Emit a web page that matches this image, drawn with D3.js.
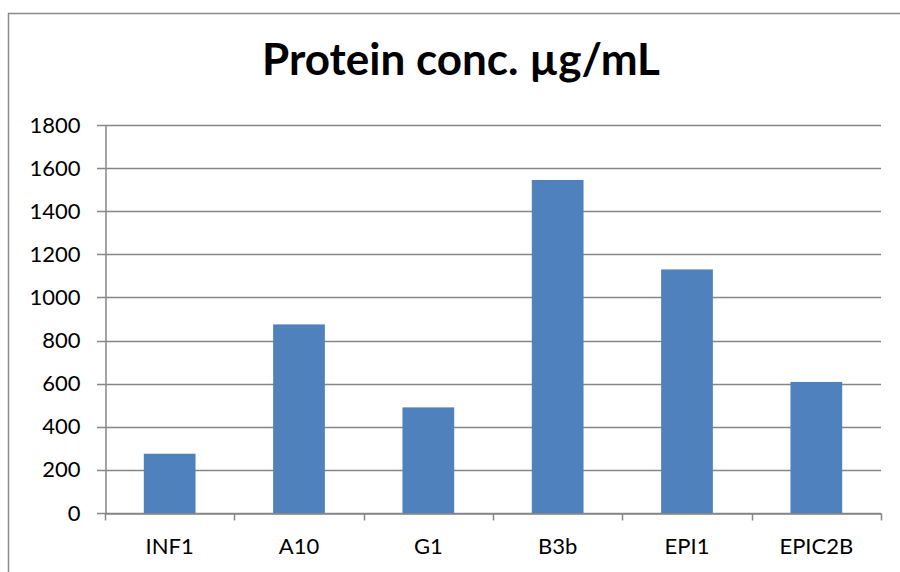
<!DOCTYPE html>
<html>
<head>
	<script src="https://d3js.org/d3.v7.min.js"></script>
	<style>
		body { margin: 0; background: #fff; }
		text { font-family: Lato, "Open Sans", sans-serif; fill: #000; }
	</style>
</head>
<body>
	<script type="text/javascript">

		// data
		var categories = ["INF1", "A10", "G1", "B3b", "EPI1", "EPIC2B"];
		var values = [275, 875, 490, 1545, 1130, 608];
		var yTicks = [0, 200, 400, 600, 800, 1000, 1200, 1400, 1600, 1800];
		var title = "Protein conc. \u00b5g/mL";

		var w = 900;
		var h = 572;
		var pLeft = 105, pRight = 881, pTop = 125, pBottom = 513;

		var svg = d3.select("body")
				.append("svg")
				.attr("width", w)
				.attr("height", h);

		// chart frame
		svg.append("path")
			.attr("d", "M8.5," + h + "V13.5H" + w)
			.attr("fill", "none")
			.attr("stroke", "#8c8c8c")
			.attr("stroke-width", 1.5);

		svg.append("text")
			.attr("x", 461)
			.attr("y", 75)
			.attr("text-anchor", "middle")
			.attr("font-size", 44)
			.attr("font-weight", "bold")
			.text(title);

		var xScale = d3.scaleBand()
				.domain(categories)
				.range([pLeft, pRight])
				.padding(0);

		var yScale = d3.scaleLinear()
				.domain([0, 1800])
				.range([pBottom, pTop]);

		// gridlines
		svg.selectAll("line.grid")
			.data(yTicks)
			.enter()
			.append("line")
			.attr("class", "grid")
			.attr("x1", pLeft - 8)
			.attr("x2", pRight)
			.attr("y1", function(d){ return Math.round(yScale(d)) + 0.5; })
			.attr("y2", function(d){ return Math.round(yScale(d)) + 0.5; })
			.attr("stroke", "#868686")
			.attr("stroke-width", 1.5);

		var barW = xScale.bandwidth() * 0.4;
		svg.selectAll("rect.bar")
			.data(values)
			.enter()
			.append("rect")
			.attr("class", "bar")
			.attr("x", function(d, i){ return xScale(categories[i]) + (xScale.bandwidth() - barW) / 2; })
			.attr("y", function(d){ return yScale(d); })
			.attr("width", barW)
			.attr("height", function(d){ return pBottom - yScale(d); })
			.attr("fill", "#4f81bd");

		// y axis
		var yAxis = svg.append("g")
			.attr("transform", "translate(" + (pLeft + 0.5) + ",0)")
			.call(d3.axisLeft(yScale).tickValues(yTicks).tickSize(0).tickPadding(25).tickFormat(d3.format("d")));
		yAxis.select(".domain").attr("stroke", "#868686").attr("stroke-width", 1.5);
		yAxis.selectAll("text").attr("font-size", 22).attr("font-family", "Lato, 'Open Sans', sans-serif");

		// x axis
		var xAxis = svg.append("g")
			.attr("transform", "translate(0," + (pBottom + 0.5) + ")")
			.call(d3.axisBottom(xScale).tickSize(0).tickPadding(25));
		xAxis.select(".domain").attr("stroke", "#868686").attr("stroke-width", 1.5);
		xAxis.selectAll("text").attr("font-size", 22).attr("font-family", "Lato, 'Open Sans', sans-serif");

		var bounds = xScale.domain().map(function(c){ return xScale(c); }).concat([pRight]);
		xAxis.selectAll("line.sep")
			.data(bounds)
			.enter()
			.append("line")
			.attr("class", "sep")
			.attr("x1", function(d){ return Math.round(d) + 0.5; })
			.attr("x2", function(d){ return Math.round(d) + 0.5; })
			.attr("y1", 0)
			.attr("y2", 7)
			.attr("stroke", "#868686")
			.attr("stroke-width", 1.5);
	</script>
</body>
</html>
